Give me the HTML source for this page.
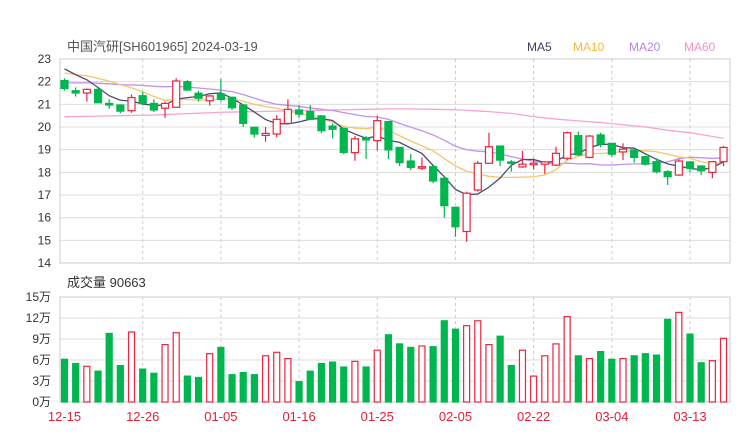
<!DOCTYPE html>
<html><head><meta charset="utf-8"><style>
body{margin:0;background:#fff;}
svg text{font-family:"Liberation Sans","Noto Sans CJK SC",sans-serif;}
</style></head><body>
<svg id="c" width="740" height="440" xmlns="http://www.w3.org/2000/svg">
<text x="67" y="51" font-size="13" fill="#555">中国汽研[SH601965] 2024-03-19</text>
<text x="527" y="51" font-size="12" fill="#3d3d5c">MA5</text>
<text x="573" y="51" font-size="12" fill="#f5b841">MA10</text>
<text x="629" y="51" font-size="12" fill="#b684e6">MA20</text>
<text x="684" y="51" font-size="12" fill="#f390c8">MA60</text>
<text x="67" y="287" font-size="13" fill="#333">成交量 90663</text>
<g id="g"></g>
</svg>
<script>
const opens=[22.05,21.6,21.5,21.66,21.04,20.97,20.72,21.38,21.04,20.83,20.87,22.0,21.49,21.16,21.46,21.31,20.97,19.99,19.63,19.69,20.16,20.75,20.68,20.49,20.04,19.94,18.87,19.5,19.4,20.24,19.1,18.5,18.19,18.25,17.74,16.46,15.39,17.22,18.4,19.16,18.46,18.24,18.34,18.36,18.32,18.62,19.62,18.66,19.65,19.28,18.9,18.99,18.69,18.47,18.03,17.88,18.46,18.28,18.0,18.47];
const closes=[21.7,21.5,21.66,21.07,20.97,20.7,21.3,21.04,20.75,21.04,22.03,21.63,21.27,21.37,21.22,20.85,20.16,19.69,19.72,20.34,20.78,20.57,20.34,19.84,19.9,18.88,19.48,19.43,20.28,18.99,18.43,18.22,18.25,17.62,16.53,15.6,17.08,18.4,19.13,18.54,18.4,18.36,18.4,18.46,18.84,19.75,18.77,19.6,19.25,18.8,19.02,18.66,18.36,18.03,17.81,18.5,18.18,18.07,18.47,19.1];
const highs=[22.15,21.75,21.7,21.7,21.22,21.0,21.44,21.55,21.22,21.12,22.15,22.07,21.6,21.4,22.12,21.35,21.0,20.02,20.0,20.53,21.22,20.97,20.97,20.52,20.16,19.97,19.6,19.6,20.49,20.27,19.12,18.81,18.66,18.28,17.76,16.48,17.15,18.5,19.75,19.18,18.54,18.94,18.62,18.5,19.13,19.8,19.8,19.65,19.75,19.3,19.28,19.01,18.72,18.62,18.1,18.58,18.5,18.3,18.5,19.16];
const lows=[21.6,21.34,21.12,21.05,20.8,20.6,20.63,20.96,20.66,20.4,20.85,21.6,21.12,20.95,21.12,20.75,20.0,19.53,19.35,19.55,20.12,20.4,20.3,19.72,19.5,18.8,18.51,18.59,18.96,18.58,18.28,18.1,18.1,17.52,16.0,15.16,14.94,17.15,18.38,18.28,18.03,18.2,18.13,17.93,18.28,18.54,18.72,18.62,19.1,18.69,18.54,18.43,18.3,17.96,17.44,17.85,18.0,17.88,17.74,18.28];
const volumes=[6.1,5.5,5.1,4.4,9.8,5.2,10.0,4.7,4.1,8.2,9.9,3.7,3.5,6.9,7.8,3.9,4.2,3.9,6.6,7.1,6.2,2.9,4.4,5.5,5.7,5.0,5.8,5.0,7.4,9.6,8.3,7.8,8.0,7.9,11.6,10.4,10.9,11.6,8.2,9.4,5.2,7.4,3.7,6.6,8.3,12.2,6.6,6.2,7.2,6.1,6.2,6.6,6.9,6.7,11.8,12.8,9.7,5.6,5.9,9.1];
const priorCloses=[21.5,21.5,21.5,21.5,21.5,21.5,21.5,21.5,21.5,21.6,22.2,22.2,22.2,22.2,22.2,22.78,22.78,22.78,22.78];
const ma60=[20.45,20.46,20.47,20.48,20.49,20.5,20.51,20.52,20.53,20.55,20.57,20.59,20.61,20.63,20.65,20.66,20.67,20.68,20.69,20.7,20.71,20.72,20.73,20.74,20.75,20.76,20.77,20.78,20.79,20.8,20.8,20.8,20.79,20.78,20.77,20.76,20.74,20.71,20.68,20.64,20.6,20.53,20.46,20.4,20.35,20.31,20.27,20.23,20.2,20.15,20.1,20.05,20.0,19.93,19.86,19.8,19.75,19.67,19.58,19.5];
const priceTicks=[23,22,21,20,19,18,17,16,15,14];
const volTicks=[15,12,9,6,3,0];
const volTickLabels=["15万","12万","9万","6万","3万","0万"];
const dateIdx=[0,7,14,21,28,35,42,49,56];
const dateLabels=["12-15","12-26","01-05","01-16","01-25","02-05","02-22","03-04","03-13"];

const NS="http://www.w3.org/2000/svg",g=document.getElementById('g');
const L=60,R=730;
const xs=i=>64.5+i*11.17;
const yP=p=>59+(23-p)*22.67;
const yV=v=>402-v*7;
const GREEN="#00b64f",RED="#e8263f";
function mk(t,a){const e=document.createElementNS(NS,t);for(const k in a)e.setAttribute(k,a[k]);g.appendChild(e);return e;}
// grids
priceTicks.forEach((p,i)=>{const l=mk('line',{x1:L,x2:R,y1:yP(p),y2:yP(p),stroke:'#ddd','stroke-width':1});


const t=mk('text',{x:51,y:yP(p)+4,'text-anchor':'end','font-size':12,fill:'#333'});t.textContent=p;

});
volTicks.forEach((v,i)=>{const l=mk('line',{x1:L,x2:R,y1:yV(v),y2:yV(v),stroke:'#ddd','stroke-width':1});


const t=mk('text',{x:51,y:yV(v)+4,'text-anchor':'end','font-size':12,fill:'#333'});t.textContent=volTickLabels[i];

});
[[yP(23),yP(14)],[yV(15),yV(0)]].forEach(([a,b])=>{const r=mk('rect',{x:L,y:a,width:R-L,height:b-a,fill:'none',stroke:'#ccc'});

});
dateIdx.forEach((d,i)=>{const x=xs(d);
if(i>0){[[yP(23),yP(14)],[yV(15),yV(0)]].forEach(([a,b])=>{const l=mk('line',{x1:x,x2:x,y1:a,y2:b,stroke:'#ccc','stroke-dasharray':'3,3'});

});}
const t=mk('text',{x:x,y:421,'text-anchor':'middle','font-size':13,fill:'#e0213a'});t.textContent=dateLabels[i];

});
// MAs
const all=priorCloses.concat(closes);
function ma(n){return closes.map((c,i)=>{const j=i+priorCloses.length;let s=0;for(let k=j-n+1;k<=j;k++)s+=all[k];return s/n;});}
const lines=[[ma60,'#f7a3d3','ma60-line'],[ma(20),'#c293ea','ma20-line'],[ma(10),'#f7c56a','ma10-line'],[ma(5),'#4a4a6e','ma5-line']];
lines.forEach(([arr,col,nm])=>{const p=mk('polyline',{points:arr.map((v,i)=>xs(i)+','+yP(v)).join(' '),fill:'none',stroke:col,'stroke-width':1.3});

});
// candles
closes.forEach((c,i)=>{const o=opens[i],up=c>=o,col=up?RED:GREEN,x=xs(i);
const w=mk('line',{x1:x,x2:x,y1:yP(highs[i]),y2:yP(lows[i]),stroke:col,'stroke-width':1.2});


const top=yP(Math.max(o,c)),h=Math.max(1.5,Math.abs(yP(o)-yP(c)));
const b=mk('rect',{x:x-3.5,y:top,width:7,height:h,fill:up?'#fff':col,stroke:col,'stroke-width':1.2});


const v=volumes[i];
const vb=mk('rect',{x:x-3,y:yV(v),width:6,height:v*7,fill:up?'#fff':col,stroke:col,'stroke-width':1.2});

});
</script>
</body></html>
